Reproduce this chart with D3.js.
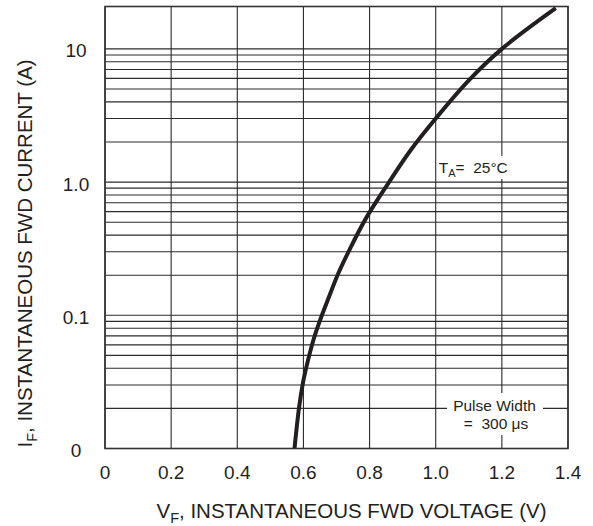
<!DOCTYPE html>
<html>
<head>
<meta charset="utf-8">
<script src="https://cdn.jsdelivr.net/npm/d3@7"></script>
<style>
  body { margin: 0; background: #fff; }
  text { font-family: "Liberation Sans", Arial, sans-serif; fill: #231f20; }
</style>
</head>
<body>
<div id="chart"></div>
<script>
// forward voltage (V) vs instantaneous forward current (A)
const vf = [0.573, 0.587, 0.599, 0.611, 0.630, 0.649, 0.673, 0.705, 0.740, 0.789, 0.857, 0.923, 1.0, 1.1, 1.2, 1.363];
const iF = [0.01, 0.0205, 0.0315, 0.043, 0.065, 0.09, 0.129, 0.205, 0.313, 0.534, 0.983, 1.72, 3.0, 5.8, 10.0, 20.2];

const xTicks = [0, 0.2, 0.4, 0.6, 0.8, 1.0, 1.2, 1.4];
const xTickLabels = ["0", "0.2", "0.4", "0.6", "0.8", "1.0", "1.2", "1.4"];
const yTicks = [0.01, 0.1, 1, 10];
const yTickLabels = ["0", "0.1", "1.0", "10"];

const W = 593, H = 526;
const margin = { top: 6.5, right: 25, bottom: 77.5, left: 105 },
  width = W - margin.left - margin.right,
  height = H - margin.top - margin.bottom;

const svg = d3.select("#chart")
  .append("svg")
  .attr("width", W)
  .attr("height", H)
  .append("g")
  .attr("transform", `translate(${margin.left}, ${margin.top})`);

const x = d3.scaleLinear().domain([0, 1.4]).range([0, width]);
const y = d3.scaleLog().domain([0.01, 20.8]).range([height, 0]);

// minor log grid: 1..9 in every decade
const yGrid = [];
[0.01, 0.1, 1].forEach(d => {
  for (let k = 1; k <= 9; k++) yGrid.push(d * k);
});
yGrid.push(10);

svg.selectAll(".hgrid")
  .data(yGrid)
  .join("line")
  .attr("x1", 0).attr("x2", width)
  .attr("y1", d => y(d)).attr("y2", d => y(d))
  .attr("stroke", "#2b2b2b")
  .attr("stroke-width", 1.1);

svg.selectAll(".vgrid")
  .data(xTicks)
  .join("line")
  .attr("x1", d => x(d)).attr("x2", d => x(d))
  .attr("y1", 0).attr("y2", height)
  .attr("stroke", "#2b2b2b")
  .attr("stroke-width", 1.1);

// frame
svg.append("rect")
  .attr("width", width).attr("height", height)
  .attr("fill", "none")
  .attr("stroke", "#333")
  .attr("stroke-width", 1.6);

// annotations with white background
svg.append("rect")
  .attr("x", x(1.0) + 2).attr("y", 149.5)
  .attr("width", 75).attr("height", 23)
  .attr("fill", "#fff");
const ta = svg.append("text")
  .attr("x", x(1.0) + 3)
  .attr("y", 166.5)
  .style("font-size", "15.5px");
ta.append("tspan").text("T");
ta.append("tspan").attr("dy", 4).style("font-size", "11px").text("A");
ta.append("tspan").attr("dy", -4).text("=\u00a0 25°C");

svg.append("rect")
  .attr("x", 342).attr("y", 386.5)
  .attr("width", 96).attr("height", 42)
  .attr("fill", "#fff");
svg.append("text")
  .attr("x", 389.5).attr("y", 404)
  .attr("text-anchor", "middle")
  .style("font-size", "15.5px")
  .text("Pulse Width");
svg.append("text")
  .attr("x", 391).attr("y", 422.5)
  .attr("text-anchor", "middle")
  .style("font-size", "15.5px")
  .text("=\u00a0 300 μs");

// curve
const line = d3.line()
  .x((d, i) => x(vf[i]))
  .y(d => y(d))
  .curve(d3.curveCatmullRom.alpha(0.5));

svg.append("path")
  .datum(iF)
  .attr("d", line)
  .attr("fill", "none")
  .attr("stroke", "#231f20")
  .attr("stroke-width", 4);

// tick labels
svg.selectAll(".xlab")
  .data(xTicks)
  .join("text")
  .attr("x", d => x(d))
  .attr("y", height + 30)
  .attr("text-anchor", "middle")
  .style("font-size", "19px")
  .text((d, i) => xTickLabels[i]);

svg.selectAll(".ylab")
  .data(yTicks)
  .join("text")
  .attr("x", -29)
  .attr("y", d => y(d) + 8.5)
  .attr("text-anchor", "middle")
  .style("font-size", "19px")
  .text((d, i) => yTickLabels[i]);

// axis titles
const xt = svg.append("text")
  .attr("x", width / 2 + 15)
  .attr("y", height + 69)
  .attr("text-anchor", "middle")
  .style("font-size", "20.5px");
xt.append("tspan").text("V");
xt.append("tspan").attr("dy", 5).style("font-size", "14.5px").text("F");
xt.append("tspan").attr("dy", -5).text(", INSTANTANEOUS FWD VOLTAGE (V)");

const yt = svg.append("text")
  .attr("transform", `translate(${-73}, ${height / 2 + 26}) rotate(-90)`)
  .attr("text-anchor", "middle")
  .style("font-size", "20.5px");
yt.append("tspan").text("I");
yt.append("tspan").attr("dy", 5).style("font-size", "14.5px").text("F");
yt.append("tspan").attr("dy", -5).text(", INSTANTANEOUS FWD CURRENT (A)");
</script>
</body>
</html>
